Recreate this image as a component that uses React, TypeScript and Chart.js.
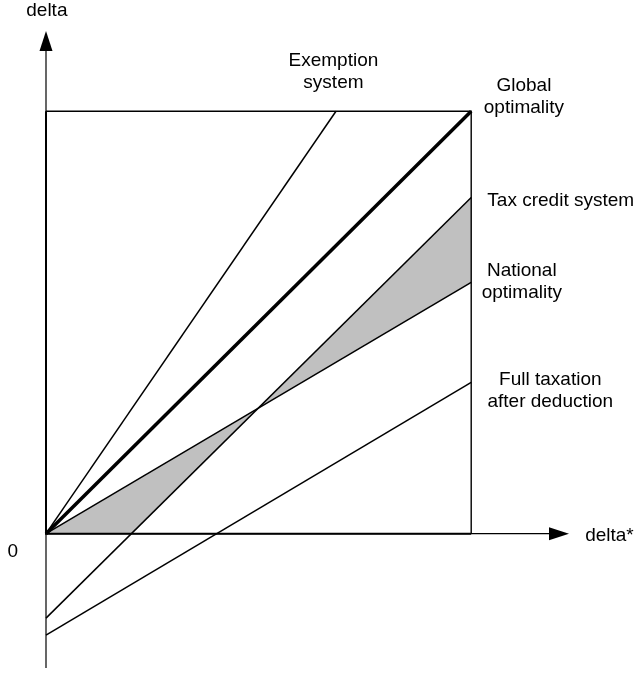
import React, { useEffect, useRef } from 'react';
import { Chart, ChartConfiguration, Plugin } from 'chart.js/auto';

// each line runs from its left end to its right end (delta* on x, delta on y)
const globalOptimalityX = [0, 1];
const globalOptimalityY = [0, 1];
const exemptionX = [0, 0.682];
const exemptionY = [0, 1];
const taxCreditX = [0, 1];
const taxCreditY = [-0.2, 0.796];
const nationalOptimalityX = [0, 1];
const nationalOptimalityY = [0, 0.595];
const fullTaxationX = [0, 1];
const fullTaxationY = [-0.24, 0.358];

// the square frame and the two axes
const boxX = [0, 1];
const boxY = [0, 1];
const xAxisRange = [0, 1.23];
const yAxisRange = [-0.318, 1.19];

const curveLabels = [
  ['Exemption', 'system'],
  ['Global', 'optimality'],
  ['Tax credit system'],
  ['National', 'optimality'],
  ['Full taxation', 'after deduction'],
];
const axisLabels = ['delta', 'delta*', '0'];

// where the texts sit, in data units
const labelLayout = [
  { lines: curveLabels[0], x: 0.676, y: 1.108, align: 'center' },
  { lines: curveLabels[1], x: 1.124, y: 1.048, align: 'center' },
  { lines: curveLabels[2], x: 1.038, y: 0.776, align: 'left' },
  { lines: curveLabels[3], x: 1.119, y: 0.611, align: 'center' },
  { lines: curveLabels[4], x: 1.186, y: 0.351, align: 'center' },
  { lines: [axisLabels[0]], x: 0.002, y: 1.225, align: 'center' },
  { lines: [axisLabels[1]], x: 1.268, y: -0.0166, align: 'left' },
  { lines: [axisLabels[2]], x: -0.078, y: -0.0545, align: 'center' },
];

const pts = (xs: number[], ys: number[]) => xs.map((x, i) => ({ x, y: ys[i] }));
const slope = (xs: number[], ys: number[]) => (ys[1] - ys[0]) / (xs[1] - xs[0]);

// shaded area between the tax credit line and national optimality
const tSlope = slope(taxCreditX, taxCreditY);
const nSlope = slope(nationalOptimalityX, nationalOptimalityY);
const crossX = (nationalOptimalityY[0] - taxCreditY[0]) / (tSlope - nSlope);
const crossY = nationalOptimalityY[0] + nSlope * crossX;
const taxZeroX = -taxCreditY[0] / tSlope;
const shadeLow = [
  { x: nationalOptimalityX[0], y: nationalOptimalityY[0] },
  { x: taxZeroX, y: 0 },
  { x: crossX, y: crossY },
];
const shadeHigh = [
  { x: crossX, y: crossY },
  { x: taxCreditX[1], y: taxCreditY[1] },
  { x: nationalOptimalityX[1], y: nationalOptimalityY[1] },
];

const line = (data: { x: number; y: number }[], width: number, order = 0) => ({
  data,
  borderColor: '#000',
  borderWidth: width,
  pointRadius: 0,
  fill: false,
  clip: false as const,
  order,
});

const shade = (data: { x: number; y: number }[]) => ({
  data,
  borderWidth: 0,
  borderColor: 'rgba(0,0,0,0)',
  backgroundColor: '#c0c0c0',
  pointRadius: 0,
  fill: 'shape',
  clip: false as const,
  order: 10,
});

const arrowsAndText: Plugin = {
  id: 'arrowsAndText',
  afterDatasetsDraw(chart) {
    const { ctx, scales } = chart;
    const sx = scales.x;
    const sy = scales.y;
    ctx.save();
    ctx.fillStyle = '#000';

    // x axis arrow
    const xt = sx.getPixelForValue(xAxisRange[1]);
    const x0 = sy.getPixelForValue(0);
    ctx.beginPath();
    ctx.moveTo(xt, x0);
    ctx.lineTo(xt - 20, x0 - 6.5);
    ctx.lineTo(xt - 20, x0 + 6.5);
    ctx.closePath();
    ctx.fill();

    // y axis arrow
    const yt = sy.getPixelForValue(yAxisRange[1]);
    const y0 = sx.getPixelForValue(0);
    ctx.beginPath();
    ctx.moveTo(y0, yt);
    ctx.lineTo(y0 - 6.5, yt + 20);
    ctx.lineTo(y0 + 6.5, yt + 20);
    ctx.closePath();
    ctx.fill();

    ctx.font = '19px "Liberation Sans", Arial, sans-serif';
    ctx.textBaseline = 'alphabetic';
    labelLayout.forEach((l) => {
      ctx.textAlign = l.align as CanvasTextAlign;
      const px = sx.getPixelForValue(l.x);
      const py = sy.getPixelForValue(l.y);
      l.lines.forEach((t, i) => ctx.fillText(t, px, py + i * 22));
    });
    ctx.restore();
  },
};

const App: React.FC = () => {
  const canvasRef = useRef<HTMLCanvasElement | null>(null);

  useEffect(() => {
    if (!canvasRef.current) return;

    const config: ChartConfiguration = {
      type: 'line',
      data: {
        datasets: [
          line(pts(globalOptimalityX, globalOptimalityY), 3.5),
          line(pts(exemptionX, exemptionY), 1.5),
          line(pts(taxCreditX, taxCreditY), 1.5),
          line(pts(nationalOptimalityX, nationalOptimalityY), 1.5),
          line(pts(fullTaxationX, fullTaxationY), 1.5),
          // left and bottom of the frame are heavier
          line([{ x: boxX[0], y: boxY[1] }, { x: boxX[0], y: boxY[0] }, { x: boxX[1], y: boxY[0] }], 2),
          line([{ x: boxX[0], y: boxY[1] }, { x: boxX[1], y: boxY[1] }, { x: boxX[1], y: boxY[0] }], 1.4),
          line([{ x: xAxisRange[0], y: 0 }, { x: xAxisRange[1] - 0.02, y: 0 }], 1.2),
          line([{ x: 0, y: yAxisRange[0] }, { x: 0, y: yAxisRange[1] - 0.02 }], 1.2),
          shade(shadeLow),
          shade(shadeHigh),
        ] as any,
      },
      options: {
        responsive: false,
        animation: false,
        devicePixelRatio: 1,
        layout: { padding: { left: 46, right: 67, top: 31, bottom: 5 } },
        elements: { line: { tension: 0 } },
        scales: {
          x: { type: 'linear', display: false, min: xAxisRange[0], max: xAxisRange[1] },
          y: { type: 'linear', display: false, min: yAxisRange[0], max: yAxisRange[1] },
        },
        plugins: {
          legend: { display: false },
          tooltip: { enabled: false },
        },
      },
      plugins: [arrowsAndText],
    };

    const chart = new Chart(canvasRef.current, config);
    return () => chart.destroy();
  }, []);

  return (
    <div style={{ position: 'absolute', left: 0, top: 0, width: 636, height: 673, background: '#fff' }}>
      <canvas ref={canvasRef} width={636} height={673} />
    </div>
  );
};

export default App;
